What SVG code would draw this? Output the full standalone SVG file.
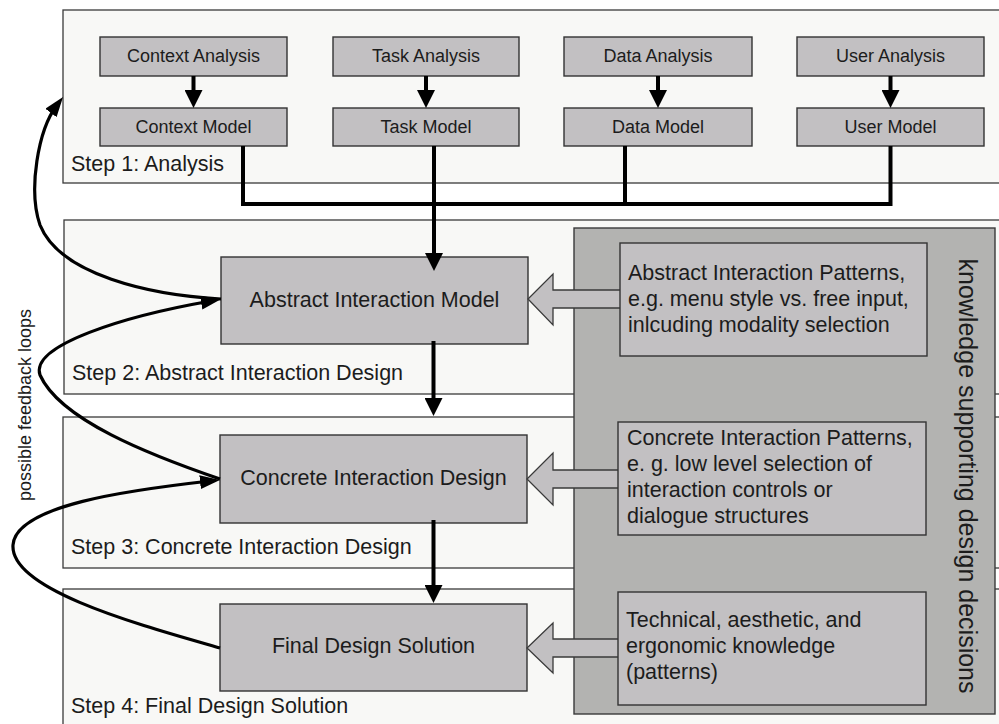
<svg xmlns="http://www.w3.org/2000/svg" width="999" height="724" viewBox="0 0 999 724">
  <style>
    .panel { fill: #f8f8f6; stroke: #3a3a3a; stroke-width: 1.3; }
    .box { fill: #c2c0c2; stroke: #333; stroke-width: 1.4; }
    .know { fill: #b3b3b1; stroke: #3a3a3a; stroke-width: 1.4; }
    .t { font-family: "Liberation Sans", Arial, sans-serif; fill: #1c1c1c; }
    .sm { font-size: 18px; text-anchor: middle; }
    .lg { font-size: 21.5px; }
    .mid { text-anchor: middle; }
    .wire { fill: none; stroke: #000; stroke-width: 4; stroke-linejoin: miter; }
    .loop { fill: none; stroke: #000; stroke-width: 3.2; }
    .block { fill: #c2c0c2; stroke: #3a3a3a; stroke-width: 1.3; stroke-linejoin: miter; }
  </style>
  <defs>
    <marker id="head" markerUnits="userSpaceOnUse" markerWidth="18" markerHeight="18" viewBox="0 0 18 18" refX="10" refY="9" orient="auto">
      <path d="M0,0 L18,9 L0,18 z" fill="#000"/>
    </marker>
    <marker id="loopHead" markerUnits="userSpaceOnUse" markerWidth="20" markerHeight="14" viewBox="0 0 20 14" refX="10" refY="7" orient="auto">
      <path d="M0,0 L20,7 L0,14 z" fill="#000"/>
    </marker>
  </defs>

  <!-- step panels (running off the right edge) -->
  <g id="step1">
    <rect class="panel" x="63" y="10" width="960" height="173"/>
    <text class="t lg" x="71" y="171">Step 1: Analysis</text>
  </g>
  <g id="step2">
    <rect class="panel" x="64" y="220" width="960" height="174"/>
    <text class="t lg" x="72" y="380">Step 2: Abstract Interaction Design</text>
  </g>
  <g id="step3">
    <rect class="panel" x="63" y="417" width="960" height="151"/>
    <text class="t lg" x="71" y="554">Step 3: Concrete Interaction Design</text>
  </g>
  <g id="step4">
    <rect class="panel" x="63" y="589" width="960" height="160"/>
    <text class="t lg" x="71" y="713">Step 4: Final Design Solution</text>
  </g>

  <!-- knowledge side panel -->
  <g id="knowledge">
    <rect class="know" x="574" y="228" width="421" height="486"/>
    <text class="t" font-size="25" text-anchor="middle" transform="translate(959,476) rotate(90)">knowledge supporting design decisions</text>
  </g>

  <!-- analysis boxes -->
  <g id="context-analysis">
    <rect class="box" x="100" y="37" width="187" height="39"/>
    <text class="t sm" x="193.5" y="62">Context Analysis</text>
  </g>
  <g id="task-analysis">
    <rect class="box" x="333" y="37" width="186" height="39"/>
    <text class="t sm" x="426" y="62">Task Analysis</text>
  </g>
  <g id="data-analysis">
    <rect class="box" x="564" y="37" width="188" height="39"/>
    <text class="t sm" x="658" y="62">Data Analysis</text>
  </g>
  <g id="user-analysis">
    <rect class="box" x="797" y="37" width="187" height="39"/>
    <text class="t sm" x="890.5" y="62">User Analysis</text>
  </g>
  <g id="context-model">
    <rect class="box" x="100" y="108" width="187" height="38"/>
    <text class="t sm" x="193.5" y="133">Context Model</text>
  </g>
  <g id="task-model">
    <rect class="box" x="333" y="108" width="186" height="38"/>
    <text class="t sm" x="426" y="133">Task Model</text>
  </g>
  <g id="data-model">
    <rect class="box" x="564" y="108" width="188" height="38"/>
    <text class="t sm" x="658" y="133">Data Model</text>
  </g>
  <g id="user-model">
    <rect class="box" x="797" y="108" width="187" height="38"/>
    <text class="t sm" x="890.5" y="133">User Model</text>
  </g>

  <!-- design stage boxes -->
  <g id="abstract-model">
    <rect class="box" x="221" y="257" width="307" height="87"/>
    <text class="t lg mid" x="374.5" y="307">Abstract Interaction Model</text>
  </g>
  <g id="concrete-design">
    <rect class="box" x="220" y="435" width="307" height="88"/>
    <text class="t lg mid" x="373.5" y="485">Concrete Interaction Design</text>
  </g>
  <g id="final-solution">
    <rect class="box" x="220" y="604" width="307" height="87"/>
    <text class="t lg mid" x="373.5" y="653">Final Design Solution</text>
  </g>

  <!-- connectors -->
  <g id="connectors">
    <!-- analysis to model -->
    <path class="wire" d="M193.5,76 V100" marker-end="url(#head)"/>
    <path class="wire" d="M426,76 V100" marker-end="url(#head)"/>
    <path class="wire" d="M658,76 V100" marker-end="url(#head)"/>
    <path class="wire" d="M890.5,76 V100" marker-end="url(#head)"/>
    <!-- models merged into one bus -->
    <path class="wire" d="M243,146 V204 H890.5 V146"/>
    <path class="wire" d="M625,146 V204"/>
    <path class="wire" d="M434,146 V263" marker-end="url(#head)"/>
    <!-- stage to stage -->
    <path class="wire" d="M433.5,341 V408" marker-end="url(#head)"/>
    <path class="wire" d="M433.5,520 V595" marker-end="url(#head)"/>

    <!-- feedback loops -->
    <path class="loop" d="M221,299 C150,295 60,275 40,225 C28,190 38,130 57,105" marker-end="url(#loopHead)"/>
    <path class="loop" d="M220,479 C150,455 60,420 40,375 C30,345 125,316 211,301" marker-end="url(#loopHead)"/>
    <path class="loop" d="M220,648 C140,625 10,590 13,545 C16,505 130,490 210,481" marker-end="url(#loopHead)"/>

    <!-- block arrows from pattern knowledge -->
    <polygon class="block" points="621,290 553,290 553,274 528,299 553,325 553,308 621,308"/>
    <polygon class="block" points="619,470 553,470 553,453 527,479 553,505 553,488 619,488"/>
    <polygon class="block" points="619,639 553,639 553,623 527,648 553,673 553,657 619,657"/>
  </g>

  <!-- pattern boxes -->
  <g id="abstract-patterns">
    <rect class="box" x="620" y="243" width="307" height="113"/>
    <text class="t lg" x="628" y="280">Abstract Interaction Patterns,</text>
    <text class="t lg" x="628" y="306">e.g. menu style vs. free input,</text>
    <text class="t lg" x="628" y="332">inlcuding modality selection</text>
  </g>
  <g id="concrete-patterns">
    <rect class="box" x="618" y="422" width="308" height="113"/>
    <text class="t lg" x="627" y="445">Concrete Interaction Patterns,</text>
    <text class="t lg" x="627" y="471">e. g. low level selection of</text>
    <text class="t lg" x="627" y="497">interaction controls or</text>
    <text class="t lg" x="627" y="523">dialogue structures</text>
  </g>
  <g id="technical-knowledge">
    <rect class="box" x="618" y="592" width="308" height="113"/>
    <text class="t lg" x="626" y="627">Technical, aesthetic, and</text>
    <text class="t lg" x="626" y="653">ergonomic knowledge</text>
    <text class="t lg" x="626" y="679">(patterns)</text>
  </g>

  <!-- side caption -->
  <text class="t" font-size="18" text-anchor="middle" transform="translate(30.5,405) rotate(-90)">possible feedback loops</text>
</svg>
